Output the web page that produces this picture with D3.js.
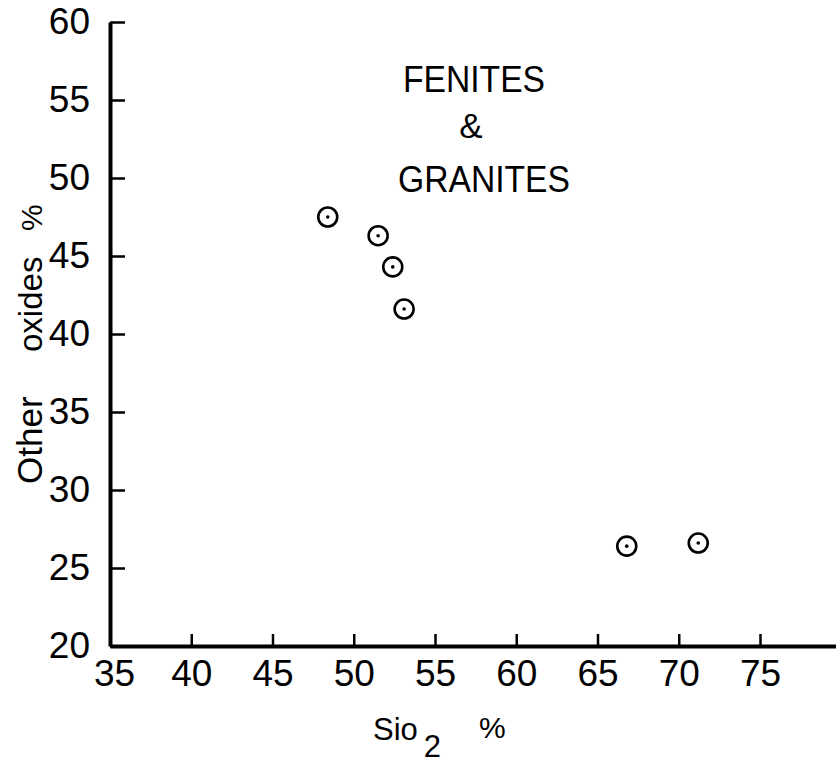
<!DOCTYPE html>
<html>
<head>
<meta charset="utf-8">
<script src="https://cdn.jsdelivr.net/npm/d3@7"></script>
<style>
  body { margin: 0; background: #fff; }
  text { font-family: "Liberation Sans", Arial, sans-serif; fill: #000; }
</style>
</head>
<body>
<div id="chart"></div>
<script>
// values
const sio2   = [48.4, 51.5, 52.4, 53.1, 66.8, 71.2];
const others = [47.5, 46.3, 44.3, 41.6, 26.4, 26.6];
const xTicks = [35, 40, 45, 50, 55, 60, 65, 70, 75];
const yTicks = [20, 25, 30, 35, 40, 45, 50, 55, 60];
const titleLines = ["FENITES", "&", "GRANITES"];

var width = 836;
var height = 763;

var svg = d3.select("#chart")
  .append("svg")
    .attr("width", width)
    .attr("height", height);

var x = d3.scaleLinear()
  .domain([35, 80])
  .range([110, 841.25]);

var y = d3.scaleLinear()
  .domain([20, 60])
  .range([646, 22]);

// x axis, ticks pointing up
var gx = svg.append("g")
  .attr("transform", "translate(0," + y(20) + ")")
  .call(d3.axisBottom(x).tickValues(xTicks).tickSizeInner(-12).tickSizeOuter(0).tickPadding(14));

// y axis, ticks pointing right
var gy = svg.append("g")
  .attr("transform", "translate(" + x(35) + ",0)")
  .call(d3.axisLeft(y).tickValues(yTicks).tickSizeInner(-15).tickSizeOuter(0).tickPadding(20));

gx.select(".domain").attr("stroke", "#000").attr("stroke-width", 4);
gy.select(".domain").attr("stroke", "#000").attr("stroke-width", 4);
svg.selectAll(".tick line").attr("stroke", "#000").attr("stroke-width", 2.5);
svg.selectAll(".tick text")
  .style("font-size", "37px")
  .style("font-family", "Liberation Sans");
gx.selectAll(".tick").filter(function(d) { return d === 35; }).select("text").attr("dx", 4);

// points: open circle with a centre dot
var pts = svg.append("g");
pts.selectAll("circle.ring")
  .data(sio2)
  .enter()
  .append("circle")
    .attr("class", "ring")
    .attr("cx", function(d) { return x(d); })
    .attr("cy", function(d, i) { return y(others[i]); })
    .attr("r", 9.5)
    .attr("fill", "none")
    .attr("stroke", "#000")
    .attr("stroke-width", 2.6);

pts.selectAll("circle.dot")
  .data(sio2)
  .enter()
  .append("circle")
    .attr("class", "dot")
    .attr("cx", function(d) { return x(d); })
    .attr("cy", function(d, i) { return y(others[i]); })
    .attr("r", 1.8)
    .attr("fill", "#000");

// title block
svg.append("text").attr("x", 403).attr("y", 92)
  .attr("textLength", 142).attr("lengthAdjust", "spacingAndGlyphs")
  .style("font-size", "37px").text(titleLines[0]);
svg.append("text").attr("x", 471).attr("y", 138).attr("text-anchor", "middle")
  .style("font-size", "35px").text(titleLines[1]);
svg.append("text").attr("x", 398).attr("y", 192)
  .attr("textLength", 172).attr("lengthAdjust", "spacingAndGlyphs")
  .style("font-size", "37px").text(titleLines[2]);

// x label
var xl = svg.append("text").attr("x", 373).attr("y", 740).style("font-size", "31px");
xl.append("tspan").text("Sio");
xl.append("tspan").attr("dx", 6).attr("dy", 17).style("font-size", "31px").text("2");
svg.append("text").attr("x", 479).attr("y", 738).style("font-size", "30px").text("%");

// y label, rotated
function yLabel(txt, pos, size) {
  svg.append("text")
    .attr("transform", "translate(42," + pos + ") rotate(-90)")
    .style("font-size", size)
    .text(txt);
}
yLabel("Other", 484, "35px");
yLabel("oxides", 352, "33px");
yLabel("%", 231, "30px");
</script>
</body>
</html>
